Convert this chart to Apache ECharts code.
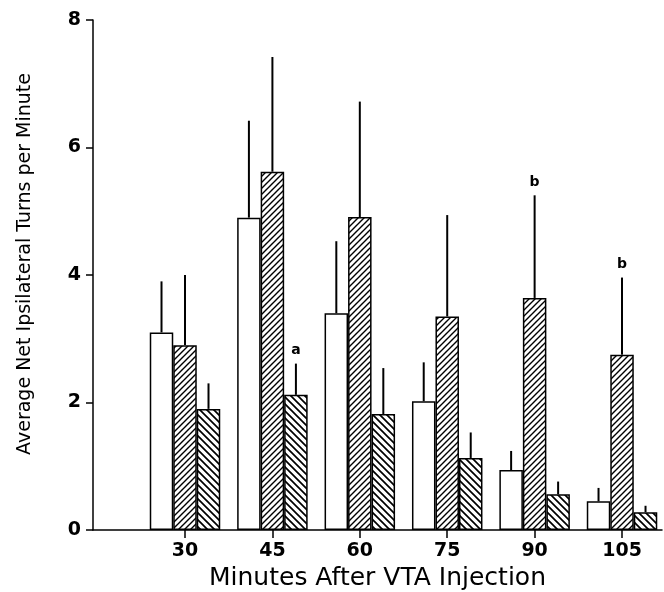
<!DOCTYPE html>
<html>
<head>
<meta charset="utf-8">
<script src="https://cdn.jsdelivr.net/npm/echarts@6/dist/echarts.min.js"></script>
<style>
html, body { margin: 0; padding: 0; background: #fff; }
#chart { width: 664px; height: 592px; }
</style>
</head>
<body>
<div id="chart"></div>
<script>
// minutes after injection
var minutes = [30, 45, 60, 75, 90, 105];
// open bars
var openMean = [3.1, 4.9, 3.4, 2.02, 0.94, 0.45];
var openErr = [0.8, 1.52, 1.13, 0.61, 0.3, 0.21];
// "/" hatched bars
var hatchMean = [2.9, 5.62, 4.91, 3.35, 3.64, 2.75];
var hatchErr = [1.1, 1.8, 1.81, 1.59, 1.61, 1.21];
var hatchNote = ['', '', '', '', 'b', 'b'];
// "\" hatched bars
var backMean = [1.9, 2.12, 1.82, 1.13, 0.56, 0.28];
var backErr = [0.4, 0.49, 0.72, 0.4, 0.2, 0.1];
var backNote = ['', 'a', '', '', '', ''];
// y ticks
var yTicks = [0, 2, 4, 6, 8];

var chart = echarts.init(document.getElementById('chart'));

var BAR_W = 23.5;
var FONT = 'DejaVu Sans';

// small repeating tile with one diagonal line
function hatchTile(size, width, forward) {
    var c = document.createElement('canvas');
    c.width = size; c.height = size;
    var ctx = c.getContext('2d');
    ctx.fillStyle = '#fff';
    ctx.fillRect(0, 0, size, size);
    ctx.strokeStyle = '#000';
    ctx.lineWidth = width;
    ctx.beginPath();
    if (forward) {
        ctx.moveTo(-1, size + 1); ctx.lineTo(size + 1, -1);
        ctx.moveTo(-1, 1); ctx.lineTo(1, -1);
        ctx.moveTo(size - 1, size + 1); ctx.lineTo(size + 1, size - 1);
    } else {
        ctx.moveTo(-1, -1); ctx.lineTo(size + 1, size + 1);
        ctx.moveTo(size - 1, -1); ctx.lineTo(size + 1, 1);
        ctx.moveTo(-1, size - 1); ctx.lineTo(1, size + 1);
    }
    ctx.stroke();
    return { image: c, repeat: 'repeat' };
}

function barData(mean) {
    return minutes.map(function (m, i) { return [m, mean[i]]; });
}

function errSeries(mean, err, note, offset) {
    return {
        type: 'custom',
        silent: true,
        z: 5,
        data: minutes.map(function (m, i) { return [m, mean[i], err[i], i]; }),
        renderItem: function (params, api) {
            var x = api.value(0), v = api.value(1), e = api.value(2);
            var p0 = api.coord([x, v]);
            var p1 = api.coord([x, v + e]);
            var idx = api.value(3);
            var children = [{
                type: 'line',
                shape: { x1: p0[0] + offset, y1: p0[1], x2: p1[0] + offset, y2: p1[1] },
                style: { stroke: '#000', lineWidth: 2 }
            }];
            var t = note ? note[idx] : '';
            if (t) {
                children.push({
                    type: 'text',
                    x: p1[0] + offset,
                    y: p1[1] - 6,
                    style: {
                        text: t, fill: '#000', font: 'bold 14px ' + FONT,
                        align: 'center', verticalAlign: 'bottom'
                    }
                });
            }
            return { type: 'group', children: children };
        }
    };
}

var option = {
    animation: false,
    backgroundColor: '#fff',
    grid: { left: 93, right: 2, top: 20, bottom: 62, outerBoundsMode: 'none', containLabel: false },
    xAxis: {
        type: 'value',
        min: 14.21,
        max: 111.86,
        name: 'Minutes After VTA Injection',
        nameLocation: 'middle',
        nameGap: 36,
        nameTextStyle: { fontFamily: FONT, fontSize: 25, color: '#000' },
        splitLine: { show: false },
        axisLine: { show: true, lineStyle: { color: '#000', width: 1.5 } },
        axisTick: { show: true, customValues: minutes, length: 8, lineStyle: { color: '#000', width: 1.5 } },
        axisLabel: {
            customValues: minutes, margin: 12, color: '#000',
            fontFamily: FONT, fontWeight: 'bold', fontSize: 19
        }
    },
    yAxis: {
        type: 'value',
        min: 0,
        max: 8,
        name: 'Average Net Ipsilateral Turns per Minute',
        nameLocation: 'middle',
        nameGap: 58,
        nameTextStyle: { fontFamily: FONT, fontSize: 19, color: '#000', padding: [0, 0, 0, 22] },
        splitLine: { show: false },
        axisLine: { show: true, lineStyle: { color: '#000', width: 1.5 } },
        axisTick: { show: true, customValues: yTicks, length: 7, lineStyle: { color: '#000', width: 1.5 } },
        axisLabel: {
            customValues: yTicks, margin: 12, color: '#000',
            fontFamily: FONT, fontWeight: 'bold', fontSize: 19
        }
    },
    series: [
        {
            type: 'bar', name: 'open', barWidth: BAR_W, barGap: '0%',
            data: barData(openMean),
            itemStyle: { color: '#fff', borderColor: '#000', borderWidth: 1.5 }
        },
        {
            type: 'bar', name: 'hatched', barWidth: BAR_W, barGap: '0%',
            data: barData(hatchMean),
            itemStyle: { color: hatchTile(6, 1.4, true), borderColor: '#000', borderWidth: 1.5 }
        },
        {
            type: 'bar', name: 'back', barWidth: BAR_W, barGap: '0%',
            data: barData(backMean),
            itemStyle: { color: hatchTile(7, 1.7, false), borderColor: '#000', borderWidth: 1.5 }
        },
        errSeries(openMean, openErr, null, -BAR_W),
        errSeries(hatchMean, hatchErr, hatchNote, 0),
        errSeries(backMean, backErr, backNote, BAR_W)
    ]
};

chart.setOption(option);
</script>
</body>
</html>
